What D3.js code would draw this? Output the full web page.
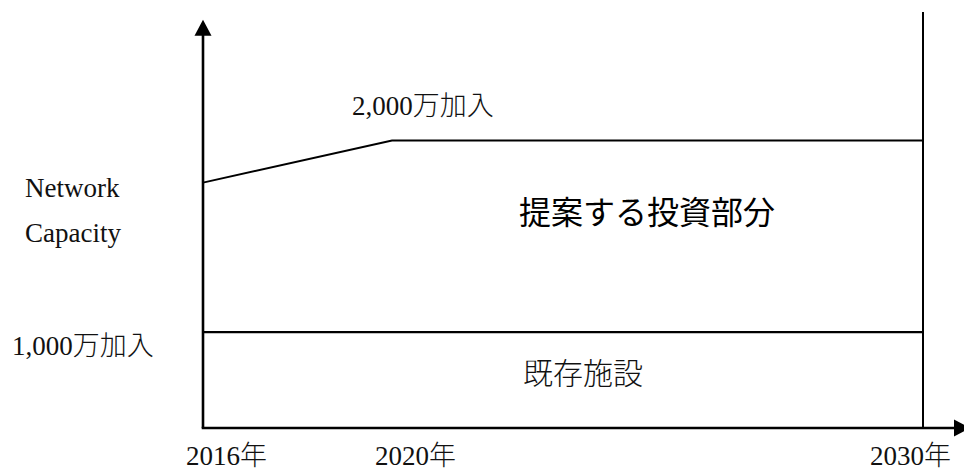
<!DOCTYPE html>
<html>
<head>
<meta charset="utf-8">
<style>
  body { margin: 0; background: #fff; }
  svg { display: block; }
  .lbl { font-family: "Liberation Serif", "Noto Sans CJK JP", serif; font-size: 27px; fill: #111; }
  .cjk { font-family: "Noto Sans CJK JP", sans-serif; font-weight: 300; }
  .big { font-family: "Noto Sans CJK JP", sans-serif; fill: #000; }
</style>
</head>
<body>
<script src="https://d3js.org/d3.v7.min.js"></script>
<script>

var width = 964,
    height = 472;

// data (schematic, in 万加入)
var years = [2016, 2020, 2030];
var yearLabels = ["2016年", "2020年", "2030年"];
var proposed = [1780, 2000, 2000];
var existing = [1000, 1000, 1000];
var levelLabels = ["1,000万加入", "2,000万加入"];
var yLabel = ["Network", "Capacity"];

var svg = d3.select("body").append("svg")
    .attr("width", width)
    .attr("height", height);

// x is piecewise so the 2020 kink sits where it does in the figure
var x = d3.scaleLinear()
    .domain(years)
    .range([203, 392, 923]);

var y = d3.scaleLinear()
    .domain([500, 2670])
    .range([428, 12]);

var x0 = x(years[0]),
    yBase = y(500);

// split latin / japanese so each part gets its own font
function mixed(sel, str) {
  var parts = str.match(/[0-9,A-Za-z ]+|[^0-9,A-Za-z ]+/g);
  parts.forEach(function(p) {
    var t = sel.append("tspan").text(p);
    if (/[^0-9,A-Za-z ]/.test(p)) t.attr("class", "cjk");
  });
}

// axes with arrow heads
svg.append("line")
    .attr("x1", x0).attr("y1", yBase)
    .attr("x2", x0).attr("y2", y(2630) + 14)
    .attr("stroke", "#000").attr("stroke-width", 2.6);
svg.append("path")
    .attr("d", "M" + x0 + "," + y(2630) + "L" + (x0 - 8.5) + "," + (y(2630) + 16) + "L" + (x0 + 8.5) + "," + (y(2630) + 16) + "Z")
    .attr("fill", "#000");

var xTip = x(years[2]) + 47;
svg.append("line")
    .attr("x1", x0 - 1.3).attr("y1", yBase)
    .attr("x2", xTip - 14).attr("y2", yBase)
    .attr("stroke", "#000").attr("stroke-width", 2.6);
svg.append("path")
    .attr("d", "M" + xTip + "," + yBase + "L" + (xTip - 16) + "," + (yBase - 8.5) + "L" + (xTip - 16) + "," + (yBase + 8.5) + "Z")
    .attr("fill", "#000");

// 2030 end line
svg.append("line")
    .attr("x1", x(years[2])).attr("y1", y(2670))
    .attr("x2", x(years[2])).attr("y2", yBase)
    .attr("stroke", "#000").attr("stroke-width", 2);

var line = d3.line()
    .x(function(d) { return x(d[0]); })
    .y(function(d) { return y(d[1]); });

svg.append("path")
    .datum(d3.zip(years, proposed))
    .attr("d", line)
    .attr("fill", "none")
    .attr("stroke", "#000")
    .attr("stroke-width", 2);

svg.append("path")
    .datum(d3.zip(years, existing))
    .attr("d", line)
    .attr("fill", "none")
    .attr("stroke", "#000")
    .attr("stroke-width", 2.3);

// year labels
svg.selectAll(".year")
    .data(yearLabels)
    .enter().append("text")
    .attr("class", "lbl year")
    .attr("x", function(d, i) { return i < 2 ? x(years[i]) - 17 : x(years[i]) + 28; })
    .attr("y", 465)
    .attr("text-anchor", function(d, i) { return i < 2 ? "start" : "end"; })
    .each(function(d) { mixed(d3.select(this), d); });

// level labels
mixed(svg.append("text")
    .attr("class", "lbl")
    .attr("x", 12)
    .attr("y", y(existing[0]) + 23), levelLabels[0]);

mixed(svg.append("text")
    .attr("class", "lbl")
    .attr("x", 352)
    .attr("y", y(proposed[1]) - 25), levelLabels[1]);

// y label
svg.selectAll(".ylab")
    .data(yLabel)
    .enter().append("text")
    .attr("class", "lbl ylab")
    .attr("x", 25)
    .attr("y", function(d, i) { return 197 + i * 45; })
    .text(function(d) { return d; });

// region labels
svg.append("text")
    .attr("class", "big")
    .attr("x", 647)
    .attr("y", 224)
    .attr("text-anchor", "middle")
    .style("font-size", "32px")
    .text("提案する投資部分");

svg.append("text")
    .attr("class", "lbl cjk")
    .attr("x", 583)
    .attr("y", 384)
    .attr("text-anchor", "middle")
    .style("font-size", "30px")
    .text("既存施設");

</script>
</body>
</html>
